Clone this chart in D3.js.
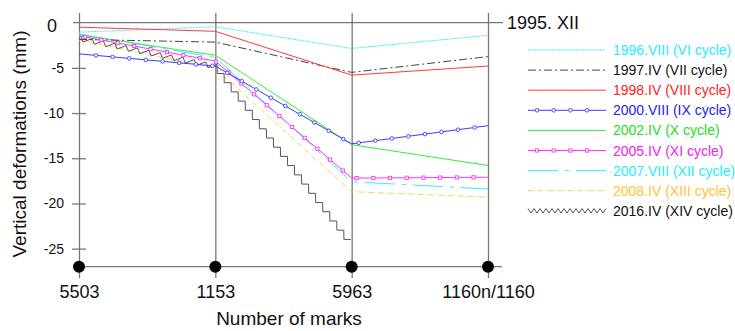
<!DOCTYPE html>
<html>
<head>
<meta charset="utf-8">
<script src="https://cdn.jsdelivr.net/npm/d3@7/dist/d3.min.js"></script>
<style>
body { margin: 0; background: #fff; }
svg { font-family: Arial, "Liberation Sans", sans-serif; }
</style>
</head>
<body>
<div id="chart-area"></div>
<script>
// Data (mm), one value per mark
var marks = ["5503", "1153", "5963", "1160n/1160"];
var s1996 = [-1.05, -0.45, -2.85, -1.4];
var s1997 = [-1.85, -2.15, -5.5, -3.75];
var s1998 = [-0.5, -0.95, -5.8, -4.8];
var s2000 = [-3.45, -4.8, -13.4, -11.4];
var s2002 = [-1.35, -3.6, -13.5, -15.8];
var s2005 = [-1.45, -4.25, -17.2, -17.1];
var s2007 = [-1.25, -3.85, -17.6, -18.4];
var s2008 = [-1.9, -5.05, -18.7, -19.3];
var s2016 = [-1.75, -4.85, -24.6];
var yTicks = [-5, -10, -15, -20, -25];

var series = [
    { name: "1996.VIII (VI cycle)", values: s1996, color: "#33eeff", text: "#22eeff", dash: "2,1" },
    { name: "1997.IV (VII cycle)", values: s1997, color: "#444", text: "#111", dash: "8,3,2,3" },
    { name: "1998.IV (VIII cycle)", values: s1998, color: "#ff3b3b", text: "#ff2222" },
    { name: "2000.VIII (IX cycle)", values: s2000, color: "#3b3bff", text: "#2222ee", marker: "circle" },
    { name: "2002.IV (X cycle)", values: s2002, color: "#33ee33", text: "#22dd22" },
    { name: "2005.IV (XI cycle)", values: s2005, color: "#ff33ff", text: "#ee22ee", marker: "square" },
    { name: "2007.VIII (XII cycle)", values: s2007, color: "#33eeff", text: "#22eeff", dash: "30,7,4,7" },
    { name: "2008.IV (XIII cycle)", values: s2008, color: "#ffcc44", text: "#ffc433", dash: "5,2,1,2" },
    { name: "2016.IV (XIV cycle)", values: s2016, color: "#555", text: "#111", zigzag: true }
];

var svg = d3.select("#chart-area")
    .append("svg")
        .attr("width", 735)
        .attr("height", 331);

// Scales
var x = d3.scalePoint()
    .domain(marks)
    .range([79, 488]);

var y = d3.scaleLinear()
    .domain([-27, 0])
    .range([266.7, 22.7]);

var axisColor = "#777";

// Vertical lines at the marks (axis ticks pointing up)
var xAxisGroup = svg.append("g")
    .attr("transform", "translate(0,278)");
xAxisGroup.call(d3.axisBottom(x).tickSizeInner(-265).tickSizeOuter(0).tickPadding(7));
xAxisGroup.select(".domain").remove();
xAxisGroup.selectAll("line").attr("stroke", axisColor).attr("stroke-width", 1.3);
xAxisGroup.selectAll("text")
    .attr("fill", "#111")
    .attr("font-size", "18px")
    .attr("font-family", "Arial, 'Liberation Sans', sans-serif");

// Y ticks crossing the left line
var yAxisGroup = svg.append("g")
    .attr("transform", "translate(86,0)");
yAxisGroup.call(d3.axisLeft(y)
    .tickValues(yTicks)
    .tickSize(14)
    .tickPadding(8)
    .tickFormat(function(d){ return String(d); }));
yAxisGroup.select(".domain").remove();
yAxisGroup.selectAll("line").attr("stroke", axisColor).attr("stroke-width", 1.3);
yAxisGroup.selectAll("text")
    .attr("fill", "#111")
    .attr("font-size", "14px")
    .attr("font-family", "Arial, 'Liberation Sans', sans-serif");

// Zero line and bottom line
svg.append("line")
    .attr("x1", x(marks[0]) - 6).attr("x2", x(marks[3]) + 15)
    .attr("y1", y(0)).attr("y2", y(0))
    .attr("stroke", axisColor).attr("stroke-width", 1.3);
svg.append("line")
    .attr("x1", x(marks[0]) - 6).attr("x2", x(marks[3]) + 14)
    .attr("y1", y(-27)).attr("y2", y(-27))
    .attr("stroke", axisColor).attr("stroke-width", 1.3);

svg.append("text")
    .attr("x", 57).attr("y", y(0) + 9)
    .attr("text-anchor", "end")
    .attr("font-size", "18px")
    .attr("fill", "#111")
    .text("0");

svg.append("text")
    .attr("x", 507).attr("y", y(0) + 6.5)
    .attr("font-size", "18px")
    .attr("fill", "#111")
    .text("1995. XII");

// Dots on the bottom line
svg.selectAll(".dot")
    .data(marks)
    .enter().append("circle")
        .attr("cx", function(d){ return x(d); })
        .attr("cy", y(-27))
        .attr("r", 6)
        .attr("fill", "#000");

// Labels
svg.append("text")
    .attr("x", -144)
    .attr("y", 26)
    .attr("transform", "rotate(-90)")
    .attr("text-anchor", "middle")
    .attr("font-size", "19px")
    .attr("fill", "#111")
    .text("Vertical deformations (mm)");

svg.append("text")
    .attr("x", 289)
    .attr("y", 325)
    .attr("text-anchor", "middle")
    .attr("font-size", "19px")
    .attr("fill", "#111")
    .text("Number of marks");

// zigzag path through points (pixel coords), offset alternates along vector (ox, oy)
function zigzag(pts, step, ox, oy) {
    var segs = [], total = 0;
    for (var i = 1; i < pts.length; i++) {
        var l = Math.hypot(pts[i][0] - pts[i-1][0], pts[i][1] - pts[i-1][1]);
        segs.push({ a: pts[i-1], b: pts[i], l: l, s: total });
        total += l;
    }
    var out = [], k = 0;
    for (var s = 0; s <= total + 0.01; s += step, k++) {
        var seg = segs.find(function(g){ return s <= g.s + g.l + 0.01; }) || segs[segs.length - 1];
        var t = Math.min(1, (s - seg.s) / seg.l);
        var px = seg.a[0] + (seg.b[0] - seg.a[0]) * t;
        var py = seg.a[1] + (seg.b[1] - seg.a[1]) * t;
        var sg = k % 2 ? 1 : -1;
        out.push([px + sg * ox, py + sg * oy]);
    }
    return "M" + out.map(function(p){ return p[0].toFixed(1) + "," + p[1].toFixed(1); }).join("L");
}

function addMarkers(sel, pathNode, type, color, start, step, maxCount) {
    var L = pathNode.getTotalLength(), n = 0;
    for (var s = start; s <= L + 0.5 && n < (maxCount || 1e9); s += step, n++) {
        var p = pathNode.getPointAtLength(Math.min(s, L));
        if (type === "circle") {
            sel.append("circle").attr("cx", p.x).attr("cy", p.y).attr("r", 1.8)
                .attr("fill", "#fff").attr("stroke", color).attr("stroke-width", 0.9);
        } else {
            sel.append("rect").attr("x", p.x - 1.6).attr("y", p.y - 1.6)
                .attr("width", 3.2).attr("height", 3.2)
                .attr("fill", "#fff").attr("stroke", color).attr("stroke-width", 0.9);
        }
    }
}

var line = d3.line()
    .x(function(d, i){ return x(marks[i]); })
    .y(function(d){ return y(d); });

var plot = svg.append("g");

// draw order: back to front
var order = [7, 6, 4, 1, 0, 2, 8, 5, 3];
order.forEach(function(idx) {
    var s = series[idx];
    var g = plot.append("g");
    var path;
    if (s.zigzag) {
        var pts = s.values.map(function(d, i){ return [x(marks[i]), y(d)]; });
        path = g.append("path").attr("d", zigzag(pts, 5.8, -1.7, 2.3));
    } else {
        path = g.append("path").attr("d", line(s.values));
    }
    path.attr("fill", "none")
        .attr("stroke", s.color)
        .attr("stroke-width", 1)
        .attr("stroke-dasharray", s.dash || null);
    if (s.marker) {
        addMarkers(g, path.node(), s.marker, s.color, s.marker === "circle" ? 17 : 6, 16.7);
    }
});

// Legend
var legend = svg.append("g");
series.forEach(function(s, i) {
    var cy = 50 + i * 20.1;
    var g = legend.append("g");
    var path;
    if (s.zigzag) {
        path = g.append("path").attr("d", zigzag([[528, cy], [606, cy]], 3, 0, 2.3));
    } else {
        path = g.append("path").attr("d", "M528," + cy + "L606," + cy);
    }
    path.attr("fill", "none")
        .attr("stroke", s.color)
        .attr("stroke-width", 1)
        .attr("stroke-dasharray", s.dash || null);
    if (s.marker) {
        addMarkers(g, path.node(), s.marker, s.color, 9, 16.7, 4);
    }
    g.append("text")
        .attr("x", 613)
        .attr("y", cy + 5)
        .attr("font-size", "14px")
        .attr("fill", s.text)
        .text(s.name);
});
</script>
</body>
</html>
